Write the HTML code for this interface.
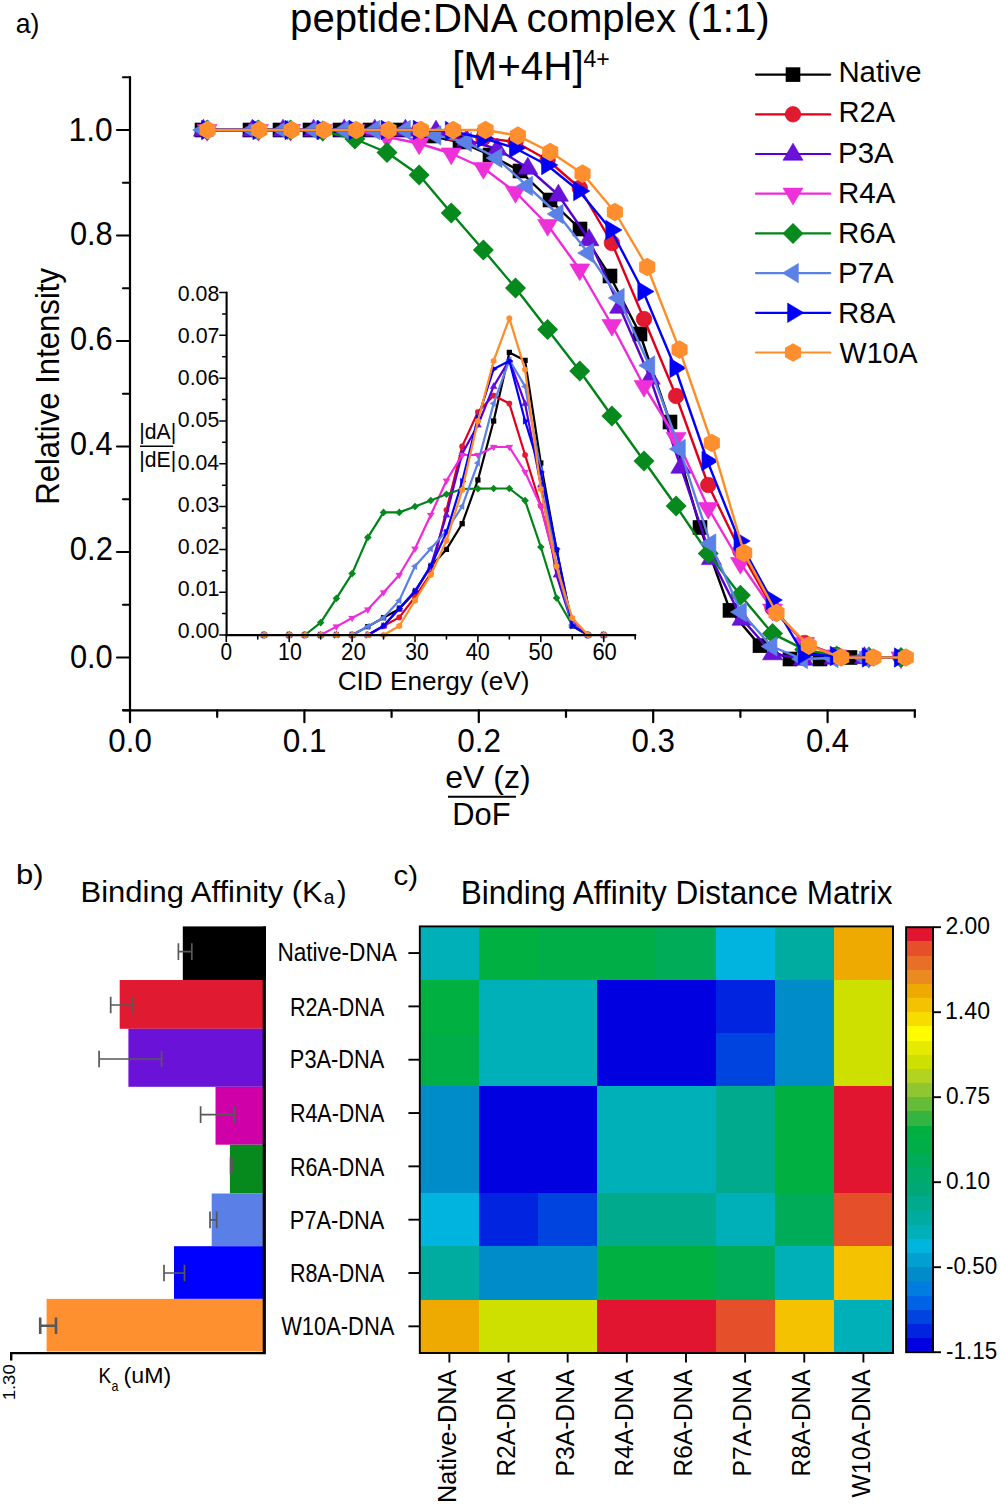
<!DOCTYPE html><html><head><meta charset="utf-8"><style>html,body{margin:0;padding:0;background:#fff}svg{display:block}</style></head><body>
<svg width="1000" height="1504" viewBox="0 0 1000 1504" font-family='"Liberation Sans", sans-serif'>
<rect width="1000" height="1504" fill="#fff"/>
<text x="15.73" y="32.50" font-size="27.5" textLength="23.68" lengthAdjust="spacingAndGlyphs">a)</text>
<text x="290.10" y="32.00" font-size="41.3" textLength="479.51" lengthAdjust="spacingAndGlyphs">peptide:DNA complex (1:1)</text>
<text x="452.37" y="80.30" font-size="41" textLength="131.37" lengthAdjust="spacingAndGlyphs">[M+4H]</text>
<text x="583.54" y="66.80" font-size="23.8" textLength="26.27" lengthAdjust="spacingAndGlyphs">4+</text>
<g stroke="#000" stroke-width="2.2" fill="none" stroke-linecap="round">
<path d="M130 77.2V710.3"/>
<path d="M123 710.3H915"/>
<path d="M123 710.25H130"/>
<path d="M117 657.5H130"/>
<path d="M123 604.75H130"/>
<path d="M117 552H130"/>
<path d="M123 499.25H130"/>
<path d="M117 446.5H130"/>
<path d="M123 393.75H130"/>
<path d="M117 341H130"/>
<path d="M123 288.25H130"/>
<path d="M117 235.5H130"/>
<path d="M123 182.75H130"/>
<path d="M117 130H130"/>
<path d="M123 77.25H130"/>
<path d="M130 710.3V722.2"/>
<path d="M217.2 710.3V717"/>
<path d="M304.4 710.3V722.2"/>
<path d="M391.6 710.3V717"/>
<path d="M478.8 710.3V722.2"/>
<path d="M566 710.3V717"/>
<path d="M653.2 710.3V722.2"/>
<path d="M740.4 710.3V717"/>
<path d="M827.6 710.3V722.2"/>
<path d="M914.8 710.3V717"/>
</g>
<text x="69.88" y="667.80" font-size="33.5" textLength="42.84" lengthAdjust="spacingAndGlyphs">0.0</text>
<text x="69.87" y="559.80" font-size="33.5" textLength="43.16" lengthAdjust="spacingAndGlyphs">0.2</text>
<text x="69.88" y="454.60" font-size="33.5" textLength="42.52" lengthAdjust="spacingAndGlyphs">0.4</text>
<text x="69.88" y="350.40" font-size="33.5" textLength="42.84" lengthAdjust="spacingAndGlyphs">0.6</text>
<text x="69.88" y="245.10" font-size="33.5" textLength="42.84" lengthAdjust="spacingAndGlyphs">0.8</text>
<text x="68.58" y="140.50" font-size="33.5" textLength="44.17" lengthAdjust="spacingAndGlyphs">1.0</text>
<text x="108.36" y="752.20" font-size="33.5" textLength="43.47" lengthAdjust="spacingAndGlyphs">0.0</text>
<text x="282.75" y="752.20" font-size="33.5" textLength="43.80" lengthAdjust="spacingAndGlyphs">0.1</text>
<text x="457.15" y="752.20" font-size="33.5" textLength="43.80" lengthAdjust="spacingAndGlyphs">0.2</text>
<text x="631.56" y="752.20" font-size="33.5" textLength="43.47" lengthAdjust="spacingAndGlyphs">0.3</text>
<text x="805.97" y="752.20" font-size="33.5" textLength="43.14" lengthAdjust="spacingAndGlyphs">0.4</text>
<text transform="translate(59.40 0) rotate(-90)" x="-504.79" y="0" font-size="33.3" textLength="236.79" lengthAdjust="spacingAndGlyphs">Relative Intensity</text>
<text x="445.32" y="787.60" font-size="32" textLength="85.38" lengthAdjust="spacingAndGlyphs">eV (z)</text>
<path d="M448 796.7H516" stroke="#000" stroke-width="2"/>
<text x="452.23" y="824.70" font-size="31.5" textLength="58.32" lengthAdjust="spacingAndGlyphs">DoF</text>
<text x="177.86" y="638.40" font-size="22.8" textLength="41.41" lengthAdjust="spacingAndGlyphs">0.00</text>
<text x="177.86" y="596.20" font-size="22.8" textLength="41.63" lengthAdjust="spacingAndGlyphs">0.01</text>
<text x="177.86" y="554.00" font-size="22.8" textLength="41.63" lengthAdjust="spacingAndGlyphs">0.02</text>
<text x="177.86" y="511.80" font-size="22.8" textLength="41.41" lengthAdjust="spacingAndGlyphs">0.03</text>
<text x="177.87" y="469.60" font-size="22.8" textLength="41.19" lengthAdjust="spacingAndGlyphs">0.04</text>
<text x="177.86" y="427.40" font-size="22.8" textLength="41.41" lengthAdjust="spacingAndGlyphs">0.05</text>
<text x="177.86" y="385.20" font-size="22.8" textLength="41.41" lengthAdjust="spacingAndGlyphs">0.06</text>
<text x="177.86" y="343.00" font-size="22.8" textLength="41.63" lengthAdjust="spacingAndGlyphs">0.07</text>
<text x="177.86" y="300.80" font-size="22.8" textLength="41.41" lengthAdjust="spacingAndGlyphs">0.08</text>
<text x="220.38" y="659.50" font-size="23.5" textLength="11.58" lengthAdjust="spacingAndGlyphs">0</text>
<text x="278.00" y="659.50" font-size="23.5" textLength="23.77" lengthAdjust="spacingAndGlyphs">10</text>
<text x="341.09" y="659.50" font-size="23.5" textLength="24.71" lengthAdjust="spacingAndGlyphs">20</text>
<text x="405.16" y="659.50" font-size="23.5" textLength="23.60" lengthAdjust="spacingAndGlyphs">30</text>
<text x="465.77" y="659.50" font-size="23.5" textLength="24.01" lengthAdjust="spacingAndGlyphs">40</text>
<text x="528.62" y="659.50" font-size="23.5" textLength="24.37" lengthAdjust="spacingAndGlyphs">50</text>
<text x="592.40" y="659.50" font-size="23.5" textLength="24.39" lengthAdjust="spacingAndGlyphs">60</text>
<text x="337.69" y="689.50" font-size="26" textLength="191.69" lengthAdjust="spacingAndGlyphs">CID Energy (eV)</text>
<text x="139.31" y="438.60" font-size="22.7" textLength="36.88" lengthAdjust="spacingAndGlyphs">|dA|</text>
<path d="M140 446.2H173.2" stroke="#000" stroke-width="1.4"/>
<text x="139.31" y="467.00" font-size="22.7" textLength="36.88" lengthAdjust="spacingAndGlyphs">|dE|</text>
<path d="M264.04 635L289.2 635L304.93 635L320.65 635L336.38 635L352.1 635L367.83 626.6L383.55 617.7L399.27 609L415 592L430.73 566.5L446.45 549.4L462.18 523.7L477.9 480L493.62 421L509.35 352.4L525.08 360.4L540.8 463L556.53 550L572.25 626L587.98 635L603.7 635" fill="none" stroke="#000000" stroke-width="2.2" stroke-linejoin="round"/>
<rect x="261.41" y="632.37" width="5.26" height="5.26" fill="#000000"/>
<rect x="286.57" y="632.37" width="5.26" height="5.26" fill="#000000"/>
<rect x="302.3" y="632.37" width="5.26" height="5.26" fill="#000000"/>
<rect x="318.02" y="632.37" width="5.26" height="5.26" fill="#000000"/>
<rect x="333.75" y="632.37" width="5.26" height="5.26" fill="#000000"/>
<rect x="349.47" y="632.37" width="5.26" height="5.26" fill="#000000"/>
<rect x="365.2" y="623.97" width="5.26" height="5.26" fill="#000000"/>
<rect x="380.92" y="615.07" width="5.26" height="5.26" fill="#000000"/>
<rect x="396.65" y="606.37" width="5.26" height="5.26" fill="#000000"/>
<rect x="412.37" y="589.37" width="5.26" height="5.26" fill="#000000"/>
<rect x="428.1" y="563.87" width="5.26" height="5.26" fill="#000000"/>
<rect x="443.82" y="546.77" width="5.26" height="5.26" fill="#000000"/>
<rect x="459.55" y="521.07" width="5.26" height="5.26" fill="#000000"/>
<rect x="475.27" y="477.37" width="5.26" height="5.26" fill="#000000"/>
<rect x="491" y="418.37" width="5.26" height="5.26" fill="#000000"/>
<rect x="506.72" y="349.77" width="5.26" height="5.26" fill="#000000"/>
<rect x="522.45" y="357.77" width="5.26" height="5.26" fill="#000000"/>
<rect x="538.17" y="460.37" width="5.26" height="5.26" fill="#000000"/>
<rect x="553.9" y="547.37" width="5.26" height="5.26" fill="#000000"/>
<rect x="569.62" y="623.37" width="5.26" height="5.26" fill="#000000"/>
<rect x="585.35" y="632.37" width="5.26" height="5.26" fill="#000000"/>
<rect x="601.07" y="632.37" width="5.26" height="5.26" fill="#000000"/>
<path d="M264.04 635L289.2 635L304.93 635L320.65 635L336.38 635L352.1 635L367.83 635L383.55 626L399.27 617.4L415 597L430.73 573.5L446.45 510L462.18 446.4L477.9 412L493.62 395.6L509.35 403.6L525.08 455L540.8 506L556.53 567L572.25 621L587.98 635L603.7 635" fill="none" stroke="#e0001c" stroke-width="2.2" stroke-linejoin="round"/>
<circle cx="264.04" cy="635" r="2.81" fill="#e01a30" stroke="#e0001c" stroke-width="0.22"/>
<circle cx="289.2" cy="635" r="2.81" fill="#e01a30" stroke="#e0001c" stroke-width="0.22"/>
<circle cx="304.93" cy="635" r="2.81" fill="#e01a30" stroke="#e0001c" stroke-width="0.22"/>
<circle cx="320.65" cy="635" r="2.81" fill="#e01a30" stroke="#e0001c" stroke-width="0.22"/>
<circle cx="336.38" cy="635" r="2.81" fill="#e01a30" stroke="#e0001c" stroke-width="0.22"/>
<circle cx="352.1" cy="635" r="2.81" fill="#e01a30" stroke="#e0001c" stroke-width="0.22"/>
<circle cx="367.83" cy="635" r="2.81" fill="#e01a30" stroke="#e0001c" stroke-width="0.22"/>
<circle cx="383.55" cy="626" r="2.81" fill="#e01a30" stroke="#e0001c" stroke-width="0.22"/>
<circle cx="399.27" cy="617.4" r="2.81" fill="#e01a30" stroke="#e0001c" stroke-width="0.22"/>
<circle cx="415" cy="597" r="2.81" fill="#e01a30" stroke="#e0001c" stroke-width="0.22"/>
<circle cx="430.73" cy="573.5" r="2.81" fill="#e01a30" stroke="#e0001c" stroke-width="0.22"/>
<circle cx="446.45" cy="510" r="2.81" fill="#e01a30" stroke="#e0001c" stroke-width="0.22"/>
<circle cx="462.18" cy="446.4" r="2.81" fill="#e01a30" stroke="#e0001c" stroke-width="0.22"/>
<circle cx="477.9" cy="412" r="2.81" fill="#e01a30" stroke="#e0001c" stroke-width="0.22"/>
<circle cx="493.62" cy="395.6" r="2.81" fill="#e01a30" stroke="#e0001c" stroke-width="0.22"/>
<circle cx="509.35" cy="403.6" r="2.81" fill="#e01a30" stroke="#e0001c" stroke-width="0.22"/>
<circle cx="525.08" cy="455" r="2.81" fill="#e01a30" stroke="#e0001c" stroke-width="0.22"/>
<circle cx="540.8" cy="506" r="2.81" fill="#e01a30" stroke="#e0001c" stroke-width="0.22"/>
<circle cx="556.53" cy="567" r="2.81" fill="#e01a30" stroke="#e0001c" stroke-width="0.22"/>
<circle cx="572.25" cy="621" r="2.81" fill="#e01a30" stroke="#e0001c" stroke-width="0.22"/>
<circle cx="587.98" cy="635" r="2.81" fill="#e01a30" stroke="#e0001c" stroke-width="0.22"/>
<circle cx="603.7" cy="635" r="2.81" fill="#e01a30" stroke="#e0001c" stroke-width="0.22"/>
<path d="M264.04 635L289.2 635L304.93 635L320.65 635L336.38 635L352.1 635L367.83 635L383.55 626L399.27 608.6L415 591.3L430.73 566.2L446.45 515L462.18 453.6L477.9 425L493.62 386.4L509.35 360L525.08 403.6L540.8 485L556.53 575L572.25 625L587.98 635L603.7 635" fill="none" stroke="#5a00d4" stroke-width="2.2" stroke-linejoin="round"/>
<path d="M264.04 631.11L267.64 637.23L260.44 637.23Z" fill="#6a12d8" stroke="#5a00d4" stroke-width="0.22" stroke-linejoin="round"/>
<path d="M289.2 631.11L292.8 637.23L285.6 637.23Z" fill="#6a12d8" stroke="#5a00d4" stroke-width="0.22" stroke-linejoin="round"/>
<path d="M304.93 631.11L308.53 637.23L301.32 637.23Z" fill="#6a12d8" stroke="#5a00d4" stroke-width="0.22" stroke-linejoin="round"/>
<path d="M320.65 631.11L324.25 637.23L317.05 637.23Z" fill="#6a12d8" stroke="#5a00d4" stroke-width="0.22" stroke-linejoin="round"/>
<path d="M336.38 631.11L339.98 637.23L332.77 637.23Z" fill="#6a12d8" stroke="#5a00d4" stroke-width="0.22" stroke-linejoin="round"/>
<path d="M352.1 631.11L355.7 637.23L348.5 637.23Z" fill="#6a12d8" stroke="#5a00d4" stroke-width="0.22" stroke-linejoin="round"/>
<path d="M367.83 631.11L371.43 637.23L364.23 637.23Z" fill="#6a12d8" stroke="#5a00d4" stroke-width="0.22" stroke-linejoin="round"/>
<path d="M383.55 622.11L387.15 628.23L379.95 628.23Z" fill="#6a12d8" stroke="#5a00d4" stroke-width="0.22" stroke-linejoin="round"/>
<path d="M399.27 604.71L402.88 610.83L395.67 610.83Z" fill="#6a12d8" stroke="#5a00d4" stroke-width="0.22" stroke-linejoin="round"/>
<path d="M415 587.41L418.6 593.53L411.4 593.53Z" fill="#6a12d8" stroke="#5a00d4" stroke-width="0.22" stroke-linejoin="round"/>
<path d="M430.73 562.31L434.33 568.43L427.12 568.43Z" fill="#6a12d8" stroke="#5a00d4" stroke-width="0.22" stroke-linejoin="round"/>
<path d="M446.45 511.11L450.05 517.23L442.85 517.23Z" fill="#6a12d8" stroke="#5a00d4" stroke-width="0.22" stroke-linejoin="round"/>
<path d="M462.18 449.71L465.78 455.83L458.57 455.83Z" fill="#6a12d8" stroke="#5a00d4" stroke-width="0.22" stroke-linejoin="round"/>
<path d="M477.9 421.11L481.5 427.23L474.3 427.23Z" fill="#6a12d8" stroke="#5a00d4" stroke-width="0.22" stroke-linejoin="round"/>
<path d="M493.62 382.51L497.23 388.63L490.02 388.63Z" fill="#6a12d8" stroke="#5a00d4" stroke-width="0.22" stroke-linejoin="round"/>
<path d="M509.35 356.11L512.95 362.23L505.75 362.23Z" fill="#6a12d8" stroke="#5a00d4" stroke-width="0.22" stroke-linejoin="round"/>
<path d="M525.08 399.71L528.68 405.83L521.48 405.83Z" fill="#6a12d8" stroke="#5a00d4" stroke-width="0.22" stroke-linejoin="round"/>
<path d="M540.8 481.11L544.4 487.23L537.2 487.23Z" fill="#6a12d8" stroke="#5a00d4" stroke-width="0.22" stroke-linejoin="round"/>
<path d="M556.53 571.11L560.13 577.23L552.93 577.23Z" fill="#6a12d8" stroke="#5a00d4" stroke-width="0.22" stroke-linejoin="round"/>
<path d="M572.25 621.11L575.85 627.23L568.65 627.23Z" fill="#6a12d8" stroke="#5a00d4" stroke-width="0.22" stroke-linejoin="round"/>
<path d="M587.98 631.11L591.58 637.23L584.38 637.23Z" fill="#6a12d8" stroke="#5a00d4" stroke-width="0.22" stroke-linejoin="round"/>
<path d="M603.7 631.11L607.3 637.23L600.1 637.23Z" fill="#6a12d8" stroke="#5a00d4" stroke-width="0.22" stroke-linejoin="round"/>
<path d="M264.04 635L289.2 635L304.93 635L320.65 635L336.38 626.6L352.1 618L367.83 609.6L383.55 592.5L399.27 575L415 548.7L430.73 515L446.45 480.7L462.18 455L477.9 455L493.62 447L509.35 447L525.08 472L540.8 506.4L556.53 566L572.25 622L587.98 635L603.7 635" fill="none" stroke="#f02ad8" stroke-width="2.2" stroke-linejoin="round"/>
<path d="M260.44 632.98L267.64 632.98L264.04 639.03Z" fill="#ee30d8" stroke="#f02ad8" stroke-width="0.22" stroke-linejoin="round"/>
<path d="M285.6 632.98L292.8 632.98L289.2 639.03Z" fill="#ee30d8" stroke="#f02ad8" stroke-width="0.22" stroke-linejoin="round"/>
<path d="M301.32 632.98L308.53 632.98L304.93 639.03Z" fill="#ee30d8" stroke="#f02ad8" stroke-width="0.22" stroke-linejoin="round"/>
<path d="M317.05 632.98L324.25 632.98L320.65 639.03Z" fill="#ee30d8" stroke="#f02ad8" stroke-width="0.22" stroke-linejoin="round"/>
<path d="M332.77 624.58L339.98 624.58L336.38 630.63Z" fill="#ee30d8" stroke="#f02ad8" stroke-width="0.22" stroke-linejoin="round"/>
<path d="M348.5 615.98L355.7 615.98L352.1 622.03Z" fill="#ee30d8" stroke="#f02ad8" stroke-width="0.22" stroke-linejoin="round"/>
<path d="M364.23 607.58L371.43 607.58L367.83 613.63Z" fill="#ee30d8" stroke="#f02ad8" stroke-width="0.22" stroke-linejoin="round"/>
<path d="M379.95 590.48L387.15 590.48L383.55 596.53Z" fill="#ee30d8" stroke="#f02ad8" stroke-width="0.22" stroke-linejoin="round"/>
<path d="M395.67 572.98L402.88 572.98L399.27 579.03Z" fill="#ee30d8" stroke="#f02ad8" stroke-width="0.22" stroke-linejoin="round"/>
<path d="M411.4 546.68L418.6 546.68L415 552.73Z" fill="#ee30d8" stroke="#f02ad8" stroke-width="0.22" stroke-linejoin="round"/>
<path d="M427.12 512.98L434.33 512.98L430.73 519.03Z" fill="#ee30d8" stroke="#f02ad8" stroke-width="0.22" stroke-linejoin="round"/>
<path d="M442.85 478.68L450.05 478.68L446.45 484.73Z" fill="#ee30d8" stroke="#f02ad8" stroke-width="0.22" stroke-linejoin="round"/>
<path d="M458.57 452.98L465.78 452.98L462.18 459.03Z" fill="#ee30d8" stroke="#f02ad8" stroke-width="0.22" stroke-linejoin="round"/>
<path d="M474.3 452.98L481.5 452.98L477.9 459.03Z" fill="#ee30d8" stroke="#f02ad8" stroke-width="0.22" stroke-linejoin="round"/>
<path d="M490.02 444.98L497.23 444.98L493.62 451.03Z" fill="#ee30d8" stroke="#f02ad8" stroke-width="0.22" stroke-linejoin="round"/>
<path d="M505.75 444.98L512.95 444.98L509.35 451.03Z" fill="#ee30d8" stroke="#f02ad8" stroke-width="0.22" stroke-linejoin="round"/>
<path d="M521.48 469.98L528.68 469.98L525.08 476.03Z" fill="#ee30d8" stroke="#f02ad8" stroke-width="0.22" stroke-linejoin="round"/>
<path d="M537.2 504.38L544.4 504.38L540.8 510.43Z" fill="#ee30d8" stroke="#f02ad8" stroke-width="0.22" stroke-linejoin="round"/>
<path d="M552.93 563.98L560.13 563.98L556.53 570.03Z" fill="#ee30d8" stroke="#f02ad8" stroke-width="0.22" stroke-linejoin="round"/>
<path d="M568.65 619.98L575.85 619.98L572.25 626.03Z" fill="#ee30d8" stroke="#f02ad8" stroke-width="0.22" stroke-linejoin="round"/>
<path d="M584.38 632.98L591.58 632.98L587.98 639.03Z" fill="#ee30d8" stroke="#f02ad8" stroke-width="0.22" stroke-linejoin="round"/>
<path d="M600.1 632.98L607.3 632.98L603.7 639.03Z" fill="#ee30d8" stroke="#f02ad8" stroke-width="0.22" stroke-linejoin="round"/>
<path d="M264.04 635L289.2 635L304.93 635L320.65 622.6L336.38 598.4L352.1 573.6L367.83 537.4L383.55 512.4L399.27 512.4L415 506.5L430.73 500.5L446.45 494.3L462.18 489L477.9 488.7L493.62 488.5L509.35 488.5L525.08 500.6L540.8 547L556.53 598L572.25 625L587.98 635L603.7 635" fill="none" stroke="#008418" stroke-width="2.2" stroke-linejoin="round"/>
<path d="M264.04 631.22L267.82 635L264.04 638.78L260.26 635Z" fill="#068a1e"/>
<path d="M289.2 631.22L292.98 635L289.2 638.78L285.42 635Z" fill="#068a1e"/>
<path d="M304.93 631.22L308.7 635L304.93 638.78L301.15 635Z" fill="#068a1e"/>
<path d="M320.65 618.82L324.43 622.6L320.65 626.38L316.87 622.6Z" fill="#068a1e"/>
<path d="M336.38 594.62L340.15 598.4L336.38 602.18L332.6 598.4Z" fill="#068a1e"/>
<path d="M352.1 569.82L355.88 573.6L352.1 577.38L348.32 573.6Z" fill="#068a1e"/>
<path d="M367.83 533.62L371.61 537.4L367.83 541.18L364.05 537.4Z" fill="#068a1e"/>
<path d="M383.55 508.62L387.33 512.4L383.55 516.18L379.77 512.4Z" fill="#068a1e"/>
<path d="M399.27 508.62L403.05 512.4L399.27 516.18L395.5 512.4Z" fill="#068a1e"/>
<path d="M415 502.72L418.78 506.5L415 510.28L411.22 506.5Z" fill="#068a1e"/>
<path d="M430.73 496.72L434.5 500.5L430.73 504.28L426.95 500.5Z" fill="#068a1e"/>
<path d="M446.45 490.52L450.23 494.3L446.45 498.08L442.67 494.3Z" fill="#068a1e"/>
<path d="M462.18 485.22L465.95 489L462.18 492.78L458.4 489Z" fill="#068a1e"/>
<path d="M477.9 484.92L481.68 488.7L477.9 492.48L474.12 488.7Z" fill="#068a1e"/>
<path d="M493.62 484.72L497.4 488.5L493.62 492.28L489.85 488.5Z" fill="#068a1e"/>
<path d="M509.35 484.72L513.13 488.5L509.35 492.28L505.57 488.5Z" fill="#068a1e"/>
<path d="M525.08 496.82L528.86 500.6L525.08 504.38L521.3 500.6Z" fill="#068a1e"/>
<path d="M540.8 543.22L544.58 547L540.8 550.78L537.02 547Z" fill="#068a1e"/>
<path d="M556.53 594.22L560.31 598L556.53 601.78L552.75 598Z" fill="#068a1e"/>
<path d="M572.25 621.22L576.03 625L572.25 628.78L568.47 625Z" fill="#068a1e"/>
<path d="M587.98 631.22L591.75 635L587.98 638.78L584.2 635Z" fill="#068a1e"/>
<path d="M603.7 631.22L607.48 635L603.7 638.78L599.92 635Z" fill="#068a1e"/>
<path d="M264.04 635L289.2 635L304.93 635L320.65 635L336.38 635L352.1 635L367.83 626.6L383.55 617.7L399.27 600.5L415 566.2L430.73 548.7L446.45 531L462.18 506.3L477.9 463L493.62 403.6L509.35 360L525.08 386.4L540.8 470L556.53 565L572.25 625L587.98 635L603.7 635" fill="none" stroke="#5b80e6" stroke-width="2.2" stroke-linejoin="round"/>
<path d="M260.22 635L265.98 631.51L265.98 638.49Z" fill="#5b80e6" stroke="#5b80e6" stroke-width="0.22" stroke-linejoin="round"/>
<path d="M285.38 635L291.14 631.51L291.14 638.49Z" fill="#5b80e6" stroke="#5b80e6" stroke-width="0.22" stroke-linejoin="round"/>
<path d="M301.11 635L306.87 631.51L306.87 638.49Z" fill="#5b80e6" stroke="#5b80e6" stroke-width="0.22" stroke-linejoin="round"/>
<path d="M316.83 635L322.59 631.51L322.59 638.49Z" fill="#5b80e6" stroke="#5b80e6" stroke-width="0.22" stroke-linejoin="round"/>
<path d="M332.56 635L338.32 631.51L338.32 638.49Z" fill="#5b80e6" stroke="#5b80e6" stroke-width="0.22" stroke-linejoin="round"/>
<path d="M348.28 635L354.04 631.51L354.04 638.49Z" fill="#5b80e6" stroke="#5b80e6" stroke-width="0.22" stroke-linejoin="round"/>
<path d="M364.01 626.6L369.77 623.11L369.77 630.09Z" fill="#5b80e6" stroke="#5b80e6" stroke-width="0.22" stroke-linejoin="round"/>
<path d="M379.73 617.7L385.49 614.21L385.49 621.19Z" fill="#5b80e6" stroke="#5b80e6" stroke-width="0.22" stroke-linejoin="round"/>
<path d="M395.46 600.5L401.22 597.01L401.22 603.99Z" fill="#5b80e6" stroke="#5b80e6" stroke-width="0.22" stroke-linejoin="round"/>
<path d="M411.18 566.2L416.94 562.71L416.94 569.69Z" fill="#5b80e6" stroke="#5b80e6" stroke-width="0.22" stroke-linejoin="round"/>
<path d="M426.91 548.7L432.67 545.21L432.67 552.19Z" fill="#5b80e6" stroke="#5b80e6" stroke-width="0.22" stroke-linejoin="round"/>
<path d="M442.63 531L448.39 527.51L448.39 534.49Z" fill="#5b80e6" stroke="#5b80e6" stroke-width="0.22" stroke-linejoin="round"/>
<path d="M458.36 506.3L464.12 502.81L464.12 509.79Z" fill="#5b80e6" stroke="#5b80e6" stroke-width="0.22" stroke-linejoin="round"/>
<path d="M474.08 463L479.84 459.51L479.84 466.49Z" fill="#5b80e6" stroke="#5b80e6" stroke-width="0.22" stroke-linejoin="round"/>
<path d="M489.81 403.6L495.57 400.11L495.57 407.09Z" fill="#5b80e6" stroke="#5b80e6" stroke-width="0.22" stroke-linejoin="round"/>
<path d="M505.53 360L511.29 356.51L511.29 363.49Z" fill="#5b80e6" stroke="#5b80e6" stroke-width="0.22" stroke-linejoin="round"/>
<path d="M521.26 386.4L527.02 382.91L527.02 389.89Z" fill="#5b80e6" stroke="#5b80e6" stroke-width="0.22" stroke-linejoin="round"/>
<path d="M536.98 470L542.74 466.51L542.74 473.49Z" fill="#5b80e6" stroke="#5b80e6" stroke-width="0.22" stroke-linejoin="round"/>
<path d="M552.71 565L558.47 561.51L558.47 568.49Z" fill="#5b80e6" stroke="#5b80e6" stroke-width="0.22" stroke-linejoin="round"/>
<path d="M568.43 625L574.19 621.51L574.19 628.49Z" fill="#5b80e6" stroke="#5b80e6" stroke-width="0.22" stroke-linejoin="round"/>
<path d="M584.16 635L589.92 631.51L589.92 638.49Z" fill="#5b80e6" stroke="#5b80e6" stroke-width="0.22" stroke-linejoin="round"/>
<path d="M599.88 635L605.64 631.51L605.64 638.49Z" fill="#5b80e6" stroke="#5b80e6" stroke-width="0.22" stroke-linejoin="round"/>
<path d="M264.04 635L289.2 635L304.93 635L320.65 635L336.38 635L352.1 635L367.83 635L383.55 626L399.27 608.6L415 591.3L430.73 566.2L446.45 532.6L462.18 481.4L477.9 418L493.62 369L509.35 361L525.08 421L540.8 472L556.53 549L572.25 625.6L587.98 635L603.7 635" fill="none" stroke="#0000ff" stroke-width="2.2" stroke-linejoin="round"/>
<path d="M267.93 635L262.1 631.51L262.1 638.49Z" fill="#0000fa" stroke="#0000ff" stroke-width="0.22" stroke-linejoin="round"/>
<path d="M293.09 635L287.26 631.51L287.26 638.49Z" fill="#0000fa" stroke="#0000ff" stroke-width="0.22" stroke-linejoin="round"/>
<path d="M308.81 635L302.98 631.51L302.98 638.49Z" fill="#0000fa" stroke="#0000ff" stroke-width="0.22" stroke-linejoin="round"/>
<path d="M324.54 635L318.71 631.51L318.71 638.49Z" fill="#0000fa" stroke="#0000ff" stroke-width="0.22" stroke-linejoin="round"/>
<path d="M340.26 635L334.43 631.51L334.43 638.49Z" fill="#0000fa" stroke="#0000ff" stroke-width="0.22" stroke-linejoin="round"/>
<path d="M355.99 635L350.16 631.51L350.16 638.49Z" fill="#0000fa" stroke="#0000ff" stroke-width="0.22" stroke-linejoin="round"/>
<path d="M371.71 635L365.88 631.51L365.88 638.49Z" fill="#0000fa" stroke="#0000ff" stroke-width="0.22" stroke-linejoin="round"/>
<path d="M387.44 626L381.61 622.51L381.61 629.49Z" fill="#0000fa" stroke="#0000ff" stroke-width="0.22" stroke-linejoin="round"/>
<path d="M403.16 608.6L397.33 605.11L397.33 612.09Z" fill="#0000fa" stroke="#0000ff" stroke-width="0.22" stroke-linejoin="round"/>
<path d="M418.89 591.3L413.06 587.81L413.06 594.79Z" fill="#0000fa" stroke="#0000ff" stroke-width="0.22" stroke-linejoin="round"/>
<path d="M434.61 566.2L428.78 562.71L428.78 569.69Z" fill="#0000fa" stroke="#0000ff" stroke-width="0.22" stroke-linejoin="round"/>
<path d="M450.34 532.6L444.51 529.11L444.51 536.09Z" fill="#0000fa" stroke="#0000ff" stroke-width="0.22" stroke-linejoin="round"/>
<path d="M466.06 481.4L460.23 477.91L460.23 484.89Z" fill="#0000fa" stroke="#0000ff" stroke-width="0.22" stroke-linejoin="round"/>
<path d="M481.79 418L475.96 414.51L475.96 421.49Z" fill="#0000fa" stroke="#0000ff" stroke-width="0.22" stroke-linejoin="round"/>
<path d="M497.51 369L491.68 365.51L491.68 372.49Z" fill="#0000fa" stroke="#0000ff" stroke-width="0.22" stroke-linejoin="round"/>
<path d="M513.24 361L507.41 357.51L507.41 364.49Z" fill="#0000fa" stroke="#0000ff" stroke-width="0.22" stroke-linejoin="round"/>
<path d="M528.96 421L523.13 417.51L523.13 424.49Z" fill="#0000fa" stroke="#0000ff" stroke-width="0.22" stroke-linejoin="round"/>
<path d="M544.69 472L538.86 468.51L538.86 475.49Z" fill="#0000fa" stroke="#0000ff" stroke-width="0.22" stroke-linejoin="round"/>
<path d="M560.41 549L554.58 545.51L554.58 552.49Z" fill="#0000fa" stroke="#0000ff" stroke-width="0.22" stroke-linejoin="round"/>
<path d="M576.14 625.6L570.31 622.11L570.31 629.09Z" fill="#0000fa" stroke="#0000ff" stroke-width="0.22" stroke-linejoin="round"/>
<path d="M591.86 635L586.03 631.51L586.03 638.49Z" fill="#0000fa" stroke="#0000ff" stroke-width="0.22" stroke-linejoin="round"/>
<path d="M607.59 635L601.76 631.51L601.76 638.49Z" fill="#0000fa" stroke="#0000ff" stroke-width="0.22" stroke-linejoin="round"/>
<path d="M264.04 635L289.2 635L304.93 635L320.65 635L336.38 635L352.1 635L367.83 635L383.55 635L399.27 626L415 600.5L430.73 575L446.45 540.6L462.18 489.9L477.9 421L493.62 361L509.35 318.4L525.08 369.6L540.8 489L556.53 566.4L572.25 618L587.98 635L603.7 635" fill="none" stroke="#ff8d26" stroke-width="2.2" stroke-linejoin="round"/>
<path d="M264.04 631.65L266.94 633.33L266.94 636.67L264.04 638.35L261.14 636.67L261.14 633.33Z" fill="#ff8f2e"/>
<path d="M289.2 631.65L292.1 633.33L292.1 636.67L289.2 638.35L286.3 636.67L286.3 633.33Z" fill="#ff8f2e"/>
<path d="M304.93 631.65L307.82 633.33L307.82 636.67L304.93 638.35L302.03 636.67L302.03 633.33Z" fill="#ff8f2e"/>
<path d="M320.65 631.65L323.55 633.33L323.55 636.67L320.65 638.35L317.75 636.67L317.75 633.33Z" fill="#ff8f2e"/>
<path d="M336.38 631.65L339.27 633.33L339.27 636.67L336.38 638.35L333.48 636.67L333.48 633.33Z" fill="#ff8f2e"/>
<path d="M352.1 631.65L355 633.33L355 636.67L352.1 638.35L349.2 636.67L349.2 633.33Z" fill="#ff8f2e"/>
<path d="M367.83 631.65L370.72 633.33L370.72 636.67L367.83 638.35L364.93 636.67L364.93 633.33Z" fill="#ff8f2e"/>
<path d="M383.55 631.65L386.45 633.33L386.45 636.67L383.55 638.35L380.65 636.67L380.65 633.33Z" fill="#ff8f2e"/>
<path d="M399.27 622.65L402.17 624.33L402.17 627.67L399.27 629.35L396.38 627.67L396.38 624.33Z" fill="#ff8f2e"/>
<path d="M415 597.15L417.9 598.83L417.9 602.17L415 603.85L412.1 602.17L412.1 598.83Z" fill="#ff8f2e"/>
<path d="M430.73 571.65L433.62 573.33L433.62 576.67L430.73 578.35L427.83 576.67L427.83 573.33Z" fill="#ff8f2e"/>
<path d="M446.45 537.25L449.35 538.93L449.35 542.27L446.45 543.95L443.55 542.27L443.55 538.93Z" fill="#ff8f2e"/>
<path d="M462.18 486.55L465.07 488.23L465.07 491.57L462.18 493.25L459.28 491.57L459.28 488.23Z" fill="#ff8f2e"/>
<path d="M477.9 417.65L480.8 419.33L480.8 422.67L477.9 424.35L475 422.67L475 419.33Z" fill="#ff8f2e"/>
<path d="M493.62 357.65L496.52 359.33L496.52 362.67L493.62 364.35L490.73 362.67L490.73 359.33Z" fill="#ff8f2e"/>
<path d="M509.35 315.05L512.25 316.73L512.25 320.07L509.35 321.75L506.45 320.07L506.45 316.73Z" fill="#ff8f2e"/>
<path d="M525.08 366.25L527.97 367.93L527.97 371.27L525.08 372.95L522.18 371.27L522.18 367.93Z" fill="#ff8f2e"/>
<path d="M540.8 485.65L543.7 487.33L543.7 490.67L540.8 492.35L537.9 490.67L537.9 487.33Z" fill="#ff8f2e"/>
<path d="M556.53 563.05L559.42 564.73L559.42 568.07L556.53 569.75L553.63 568.07L553.63 564.73Z" fill="#ff8f2e"/>
<path d="M572.25 614.65L575.15 616.33L575.15 619.67L572.25 621.35L569.35 619.67L569.35 616.33Z" fill="#ff8f2e"/>
<path d="M587.98 631.65L590.87 633.33L590.87 636.67L587.98 638.35L585.08 636.67L585.08 633.33Z" fill="#ff8f2e"/>
<path d="M603.7 631.65L606.6 633.33L606.6 636.67L603.7 638.35L600.8 636.67L600.8 633.33Z" fill="#ff8f2e"/>
<g stroke="#000" fill="none" stroke-linecap="round">
<path d="M226.6 292.6V635.4" stroke-width="2.1"/>
<path d="M226 635.2H635.3" stroke-width="2.3"/>
<path d="M219.8 635H226.5" stroke-width="1.5"/>
<path d="M222.6 613.6H226.5" stroke-width="1.5"/>
<path d="M219.8 592.19H226.5" stroke-width="1.5"/>
<path d="M222.6 570.78H226.5" stroke-width="1.5"/>
<path d="M219.8 549.38H226.5" stroke-width="1.5"/>
<path d="M222.6 527.98H226.5" stroke-width="1.5"/>
<path d="M219.8 506.57H226.5" stroke-width="1.5"/>
<path d="M222.6 485.16H226.5" stroke-width="1.5"/>
<path d="M219.8 463.76H226.5" stroke-width="1.5"/>
<path d="M222.6 442.36H226.5" stroke-width="1.5"/>
<path d="M219.8 420.95H226.5" stroke-width="1.5"/>
<path d="M222.6 399.54H226.5" stroke-width="1.5"/>
<path d="M219.8 378.14H226.5" stroke-width="1.5"/>
<path d="M222.6 356.74H226.5" stroke-width="1.5"/>
<path d="M219.8 335.33H226.5" stroke-width="1.5"/>
<path d="M222.6 313.92H226.5" stroke-width="1.5"/>
<path d="M219.8 292.52H226.5" stroke-width="1.5"/>
<path d="M226.3 635V641.5" stroke-width="1.6"/>
<path d="M257.75 635V639" stroke-width="1.6"/>
<path d="M289.2 635V641.5" stroke-width="1.6"/>
<path d="M320.65 635V639" stroke-width="1.6"/>
<path d="M352.1 635V641.5" stroke-width="1.6"/>
<path d="M383.55 635V639" stroke-width="1.6"/>
<path d="M415 635V641.5" stroke-width="1.6"/>
<path d="M446.45 635V639" stroke-width="1.6"/>
<path d="M477.9 635V641.5" stroke-width="1.6"/>
<path d="M509.35 635V639" stroke-width="1.6"/>
<path d="M540.8 635V641.5" stroke-width="1.6"/>
<path d="M572.25 635V639" stroke-width="1.6"/>
<path d="M603.7 635V641.5" stroke-width="1.6"/>
<path d="M635.15 635V639" stroke-width="1.6"/>
</g>
<path d="M202 130L250 130L280 130L310 130L340 130L370 130L400 130L430 136L460 142L490 155L520 171L550 200L580 229L610 276L640 334L670 422L700 527.5L730 610.4L760 645.6L790 659L820 659L850 657.5" fill="none" stroke="#000000" stroke-width="2.4" stroke-linejoin="round"/>
<rect x="194.7" y="122.7" width="14.6" height="14.6" fill="#000000"/>
<rect x="242.7" y="122.7" width="14.6" height="14.6" fill="#000000"/>
<rect x="272.7" y="122.7" width="14.6" height="14.6" fill="#000000"/>
<rect x="302.7" y="122.7" width="14.6" height="14.6" fill="#000000"/>
<rect x="332.7" y="122.7" width="14.6" height="14.6" fill="#000000"/>
<rect x="362.7" y="122.7" width="14.6" height="14.6" fill="#000000"/>
<rect x="392.7" y="122.7" width="14.6" height="14.6" fill="#000000"/>
<rect x="422.7" y="128.7" width="14.6" height="14.6" fill="#000000"/>
<rect x="452.7" y="134.7" width="14.6" height="14.6" fill="#000000"/>
<rect x="482.7" y="147.7" width="14.6" height="14.6" fill="#000000"/>
<rect x="512.7" y="163.7" width="14.6" height="14.6" fill="#000000"/>
<rect x="542.7" y="192.7" width="14.6" height="14.6" fill="#000000"/>
<rect x="572.7" y="221.7" width="14.6" height="14.6" fill="#000000"/>
<rect x="602.7" y="268.7" width="14.6" height="14.6" fill="#000000"/>
<rect x="632.7" y="326.7" width="14.6" height="14.6" fill="#000000"/>
<rect x="662.7" y="414.7" width="14.6" height="14.6" fill="#000000"/>
<rect x="692.7" y="520.2" width="14.6" height="14.6" fill="#000000"/>
<rect x="722.7" y="603.1" width="14.6" height="14.6" fill="#000000"/>
<rect x="752.7" y="638.3" width="14.6" height="14.6" fill="#000000"/>
<rect x="782.7" y="651.7" width="14.6" height="14.6" fill="#000000"/>
<rect x="812.7" y="651.7" width="14.6" height="14.6" fill="#000000"/>
<rect x="842.7" y="650.2" width="14.6" height="14.6" fill="#000000"/>
<path d="M207.1 130L258.5 130L290.62 130L322.75 130L354.88 130L387 130L419.12 130L451.25 133L483.38 138L515.5 142L547.62 160L579.75 188L611.88 243L644 319L676.12 396L708.25 485L740.38 551L772.5 608L804.62 643L836.75 655L868.88 657.5L901 657.5" fill="none" stroke="#e0001c" stroke-width="2.4" stroke-linejoin="round"/>
<circle cx="207.1" cy="130" r="7.8" fill="#e01a30" stroke="#e0001c" stroke-width="0.6"/>
<circle cx="258.5" cy="130" r="7.8" fill="#e01a30" stroke="#e0001c" stroke-width="0.6"/>
<circle cx="290.62" cy="130" r="7.8" fill="#e01a30" stroke="#e0001c" stroke-width="0.6"/>
<circle cx="322.75" cy="130" r="7.8" fill="#e01a30" stroke="#e0001c" stroke-width="0.6"/>
<circle cx="354.88" cy="130" r="7.8" fill="#e01a30" stroke="#e0001c" stroke-width="0.6"/>
<circle cx="387" cy="130" r="7.8" fill="#e01a30" stroke="#e0001c" stroke-width="0.6"/>
<circle cx="419.12" cy="130" r="7.8" fill="#e01a30" stroke="#e0001c" stroke-width="0.6"/>
<circle cx="451.25" cy="133" r="7.8" fill="#e01a30" stroke="#e0001c" stroke-width="0.6"/>
<circle cx="483.38" cy="138" r="7.8" fill="#e01a30" stroke="#e0001c" stroke-width="0.6"/>
<circle cx="515.5" cy="142" r="7.8" fill="#e01a30" stroke="#e0001c" stroke-width="0.6"/>
<circle cx="547.62" cy="160" r="7.8" fill="#e01a30" stroke="#e0001c" stroke-width="0.6"/>
<circle cx="579.75" cy="188" r="7.8" fill="#e01a30" stroke="#e0001c" stroke-width="0.6"/>
<circle cx="611.88" cy="243" r="7.8" fill="#e01a30" stroke="#e0001c" stroke-width="0.6"/>
<circle cx="644" cy="319" r="7.8" fill="#e01a30" stroke="#e0001c" stroke-width="0.6"/>
<circle cx="676.12" cy="396" r="7.8" fill="#e01a30" stroke="#e0001c" stroke-width="0.6"/>
<circle cx="708.25" cy="485" r="7.8" fill="#e01a30" stroke="#e0001c" stroke-width="0.6"/>
<circle cx="740.38" cy="551" r="7.8" fill="#e01a30" stroke="#e0001c" stroke-width="0.6"/>
<circle cx="772.5" cy="608" r="7.8" fill="#e01a30" stroke="#e0001c" stroke-width="0.6"/>
<circle cx="804.62" cy="643" r="7.8" fill="#e01a30" stroke="#e0001c" stroke-width="0.6"/>
<circle cx="836.75" cy="655" r="7.8" fill="#e01a30" stroke="#e0001c" stroke-width="0.6"/>
<circle cx="868.88" cy="657.5" r="7.8" fill="#e01a30" stroke="#e0001c" stroke-width="0.6"/>
<circle cx="901" cy="657.5" r="7.8" fill="#e01a30" stroke="#e0001c" stroke-width="0.6"/>
<path d="M203.44 130L252.4 130L283 130L313.6 130L344.2 130L374.8 130L405.4 130L436 131L466.6 140L497.2 149L527.8 168L558.4 195L589 239.5L619.6 307L650.2 378L680.8 467L711.4 558.4L742 619L772.6 653.6L803.2 659L833.8 658L864.4 657.5" fill="none" stroke="#5a00d4" stroke-width="2.4" stroke-linejoin="round"/>
<path d="M203.44 119.2L213.44 136.2L193.44 136.2Z" fill="#6a12d8" stroke="#5a00d4" stroke-width="0.6" stroke-linejoin="round"/>
<path d="M252.4 119.2L262.4 136.2L242.4 136.2Z" fill="#6a12d8" stroke="#5a00d4" stroke-width="0.6" stroke-linejoin="round"/>
<path d="M283 119.2L293 136.2L273 136.2Z" fill="#6a12d8" stroke="#5a00d4" stroke-width="0.6" stroke-linejoin="round"/>
<path d="M313.6 119.2L323.6 136.2L303.6 136.2Z" fill="#6a12d8" stroke="#5a00d4" stroke-width="0.6" stroke-linejoin="round"/>
<path d="M344.2 119.2L354.2 136.2L334.2 136.2Z" fill="#6a12d8" stroke="#5a00d4" stroke-width="0.6" stroke-linejoin="round"/>
<path d="M374.8 119.2L384.8 136.2L364.8 136.2Z" fill="#6a12d8" stroke="#5a00d4" stroke-width="0.6" stroke-linejoin="round"/>
<path d="M405.4 119.2L415.4 136.2L395.4 136.2Z" fill="#6a12d8" stroke="#5a00d4" stroke-width="0.6" stroke-linejoin="round"/>
<path d="M436 120.2L446 137.2L426 137.2Z" fill="#6a12d8" stroke="#5a00d4" stroke-width="0.6" stroke-linejoin="round"/>
<path d="M466.6 129.2L476.6 146.2L456.6 146.2Z" fill="#6a12d8" stroke="#5a00d4" stroke-width="0.6" stroke-linejoin="round"/>
<path d="M497.2 138.2L507.2 155.2L487.2 155.2Z" fill="#6a12d8" stroke="#5a00d4" stroke-width="0.6" stroke-linejoin="round"/>
<path d="M527.8 157.2L537.8 174.2L517.8 174.2Z" fill="#6a12d8" stroke="#5a00d4" stroke-width="0.6" stroke-linejoin="round"/>
<path d="M558.4 184.2L568.4 201.2L548.4 201.2Z" fill="#6a12d8" stroke="#5a00d4" stroke-width="0.6" stroke-linejoin="round"/>
<path d="M589 228.7L599 245.7L579 245.7Z" fill="#6a12d8" stroke="#5a00d4" stroke-width="0.6" stroke-linejoin="round"/>
<path d="M619.6 296.2L629.6 313.2L609.6 313.2Z" fill="#6a12d8" stroke="#5a00d4" stroke-width="0.6" stroke-linejoin="round"/>
<path d="M650.2 367.2L660.2 384.2L640.2 384.2Z" fill="#6a12d8" stroke="#5a00d4" stroke-width="0.6" stroke-linejoin="round"/>
<path d="M680.8 456.2L690.8 473.2L670.8 473.2Z" fill="#6a12d8" stroke="#5a00d4" stroke-width="0.6" stroke-linejoin="round"/>
<path d="M711.4 547.6L721.4 564.6L701.4 564.6Z" fill="#6a12d8" stroke="#5a00d4" stroke-width="0.6" stroke-linejoin="round"/>
<path d="M742 608.2L752 625.2L732 625.2Z" fill="#6a12d8" stroke="#5a00d4" stroke-width="0.6" stroke-linejoin="round"/>
<path d="M772.6 642.8L782.6 659.8L762.6 659.8Z" fill="#6a12d8" stroke="#5a00d4" stroke-width="0.6" stroke-linejoin="round"/>
<path d="M803.2 648.2L813.2 665.2L793.2 665.2Z" fill="#6a12d8" stroke="#5a00d4" stroke-width="0.6" stroke-linejoin="round"/>
<path d="M833.8 647.2L843.8 664.2L823.8 664.2Z" fill="#6a12d8" stroke="#5a00d4" stroke-width="0.6" stroke-linejoin="round"/>
<path d="M864.4 646.7L874.4 663.7L854.4 663.7Z" fill="#6a12d8" stroke="#5a00d4" stroke-width="0.6" stroke-linejoin="round"/>
<path d="M207.1 130L258.5 130L290.62 130L322.75 130L354.88 130L387 137L419.12 143.5L451.25 153.5L483.38 168L515.5 192L547.62 225L579.75 269.5L611.88 325L644 386L676.12 438L708.25 508L740.38 563L772.5 609.6L804.62 643L836.75 655.5L868.88 657L901 657.5" fill="none" stroke="#f02ad8" stroke-width="2.4" stroke-linejoin="round"/>
<path d="M197.1 124.4L217.1 124.4L207.1 141.2Z" fill="#ee30d8" stroke="#f02ad8" stroke-width="0.6" stroke-linejoin="round"/>
<path d="M248.5 124.4L268.5 124.4L258.5 141.2Z" fill="#ee30d8" stroke="#f02ad8" stroke-width="0.6" stroke-linejoin="round"/>
<path d="M280.62 124.4L300.62 124.4L290.62 141.2Z" fill="#ee30d8" stroke="#f02ad8" stroke-width="0.6" stroke-linejoin="round"/>
<path d="M312.75 124.4L332.75 124.4L322.75 141.2Z" fill="#ee30d8" stroke="#f02ad8" stroke-width="0.6" stroke-linejoin="round"/>
<path d="M344.88 124.4L364.88 124.4L354.88 141.2Z" fill="#ee30d8" stroke="#f02ad8" stroke-width="0.6" stroke-linejoin="round"/>
<path d="M377 131.4L397 131.4L387 148.2Z" fill="#ee30d8" stroke="#f02ad8" stroke-width="0.6" stroke-linejoin="round"/>
<path d="M409.12 137.9L429.12 137.9L419.12 154.7Z" fill="#ee30d8" stroke="#f02ad8" stroke-width="0.6" stroke-linejoin="round"/>
<path d="M441.25 147.9L461.25 147.9L451.25 164.7Z" fill="#ee30d8" stroke="#f02ad8" stroke-width="0.6" stroke-linejoin="round"/>
<path d="M473.38 162.4L493.38 162.4L483.38 179.2Z" fill="#ee30d8" stroke="#f02ad8" stroke-width="0.6" stroke-linejoin="round"/>
<path d="M505.5 186.4L525.5 186.4L515.5 203.2Z" fill="#ee30d8" stroke="#f02ad8" stroke-width="0.6" stroke-linejoin="round"/>
<path d="M537.62 219.4L557.62 219.4L547.62 236.2Z" fill="#ee30d8" stroke="#f02ad8" stroke-width="0.6" stroke-linejoin="round"/>
<path d="M569.75 263.9L589.75 263.9L579.75 280.7Z" fill="#ee30d8" stroke="#f02ad8" stroke-width="0.6" stroke-linejoin="round"/>
<path d="M601.88 319.4L621.88 319.4L611.88 336.2Z" fill="#ee30d8" stroke="#f02ad8" stroke-width="0.6" stroke-linejoin="round"/>
<path d="M634 380.4L654 380.4L644 397.2Z" fill="#ee30d8" stroke="#f02ad8" stroke-width="0.6" stroke-linejoin="round"/>
<path d="M666.12 432.4L686.12 432.4L676.12 449.2Z" fill="#ee30d8" stroke="#f02ad8" stroke-width="0.6" stroke-linejoin="round"/>
<path d="M698.25 502.4L718.25 502.4L708.25 519.2Z" fill="#ee30d8" stroke="#f02ad8" stroke-width="0.6" stroke-linejoin="round"/>
<path d="M730.38 557.4L750.38 557.4L740.38 574.2Z" fill="#ee30d8" stroke="#f02ad8" stroke-width="0.6" stroke-linejoin="round"/>
<path d="M762.5 604L782.5 604L772.5 620.8Z" fill="#ee30d8" stroke="#f02ad8" stroke-width="0.6" stroke-linejoin="round"/>
<path d="M794.62 637.4L814.62 637.4L804.62 654.2Z" fill="#ee30d8" stroke="#f02ad8" stroke-width="0.6" stroke-linejoin="round"/>
<path d="M826.75 649.9L846.75 649.9L836.75 666.7Z" fill="#ee30d8" stroke="#f02ad8" stroke-width="0.6" stroke-linejoin="round"/>
<path d="M858.88 651.4L878.88 651.4L868.88 668.2Z" fill="#ee30d8" stroke="#f02ad8" stroke-width="0.6" stroke-linejoin="round"/>
<path d="M891 651.9L911 651.9L901 668.7Z" fill="#ee30d8" stroke="#f02ad8" stroke-width="0.6" stroke-linejoin="round"/>
<path d="M207.1 130L258.5 130L290.62 130L322.75 131L354.88 139L387 152.5L419.12 175L451.25 213L483.38 250L515.5 288L547.62 329.4L579.75 371L611.88 416L644 461L676.12 506L708.25 553.6L740.38 595.2L772.5 633.6L804.62 649.6L836.75 656L868.88 657L901 657.5" fill="none" stroke="#008418" stroke-width="2.4" stroke-linejoin="round"/>
<path d="M207.1 119.5L217.6 130L207.1 140.5L196.6 130Z" fill="#068a1e"/>
<path d="M258.5 119.5L269 130L258.5 140.5L248 130Z" fill="#068a1e"/>
<path d="M290.62 119.5L301.12 130L290.62 140.5L280.12 130Z" fill="#068a1e"/>
<path d="M322.75 120.5L333.25 131L322.75 141.5L312.25 131Z" fill="#068a1e"/>
<path d="M354.88 128.5L365.38 139L354.88 149.5L344.38 139Z" fill="#068a1e"/>
<path d="M387 142L397.5 152.5L387 163L376.5 152.5Z" fill="#068a1e"/>
<path d="M419.12 164.5L429.62 175L419.12 185.5L408.62 175Z" fill="#068a1e"/>
<path d="M451.25 202.5L461.75 213L451.25 223.5L440.75 213Z" fill="#068a1e"/>
<path d="M483.38 239.5L493.88 250L483.38 260.5L472.88 250Z" fill="#068a1e"/>
<path d="M515.5 277.5L526 288L515.5 298.5L505 288Z" fill="#068a1e"/>
<path d="M547.62 318.9L558.12 329.4L547.62 339.9L537.12 329.4Z" fill="#068a1e"/>
<path d="M579.75 360.5L590.25 371L579.75 381.5L569.25 371Z" fill="#068a1e"/>
<path d="M611.88 405.5L622.38 416L611.88 426.5L601.38 416Z" fill="#068a1e"/>
<path d="M644 450.5L654.5 461L644 471.5L633.5 461Z" fill="#068a1e"/>
<path d="M676.12 495.5L686.62 506L676.12 516.5L665.62 506Z" fill="#068a1e"/>
<path d="M708.25 543.1L718.75 553.6L708.25 564.1L697.75 553.6Z" fill="#068a1e"/>
<path d="M740.38 584.7L750.88 595.2L740.38 605.7L729.88 595.2Z" fill="#068a1e"/>
<path d="M772.5 623.1L783 633.6L772.5 644.1L762 633.6Z" fill="#068a1e"/>
<path d="M804.62 639.1L815.12 649.6L804.62 660.1L794.12 649.6Z" fill="#068a1e"/>
<path d="M836.75 645.5L847.25 656L836.75 666.5L826.25 656Z" fill="#068a1e"/>
<path d="M868.88 646.5L879.38 657L868.88 667.5L858.38 657Z" fill="#068a1e"/>
<path d="M901 647L911.5 657.5L901 668L890.5 657.5Z" fill="#068a1e"/>
<path d="M203.32 130L252.2 130L282.75 130L313.3 130L343.85 130L374.4 130L404.95 130L435.5 135.4L466.05 142L496.6 158L527.15 186L557.7 214L588.25 253L618.8 298L649.35 365.5L679.9 449L710.45 543.5L741 612L771.55 646.4L802.1 659L832.65 658L863.2 657.5" fill="none" stroke="#5b80e6" stroke-width="2.4" stroke-linejoin="round"/>
<path d="M192.72 130L208.72 120.3L208.72 139.7Z" fill="#5b80e6" stroke="#5b80e6" stroke-width="0.6" stroke-linejoin="round"/>
<path d="M241.6 130L257.6 120.3L257.6 139.7Z" fill="#5b80e6" stroke="#5b80e6" stroke-width="0.6" stroke-linejoin="round"/>
<path d="M272.15 130L288.15 120.3L288.15 139.7Z" fill="#5b80e6" stroke="#5b80e6" stroke-width="0.6" stroke-linejoin="round"/>
<path d="M302.7 130L318.7 120.3L318.7 139.7Z" fill="#5b80e6" stroke="#5b80e6" stroke-width="0.6" stroke-linejoin="round"/>
<path d="M333.25 130L349.25 120.3L349.25 139.7Z" fill="#5b80e6" stroke="#5b80e6" stroke-width="0.6" stroke-linejoin="round"/>
<path d="M363.8 130L379.8 120.3L379.8 139.7Z" fill="#5b80e6" stroke="#5b80e6" stroke-width="0.6" stroke-linejoin="round"/>
<path d="M394.35 130L410.35 120.3L410.35 139.7Z" fill="#5b80e6" stroke="#5b80e6" stroke-width="0.6" stroke-linejoin="round"/>
<path d="M424.9 135.4L440.9 125.7L440.9 145.1Z" fill="#5b80e6" stroke="#5b80e6" stroke-width="0.6" stroke-linejoin="round"/>
<path d="M455.45 142L471.45 132.3L471.45 151.7Z" fill="#5b80e6" stroke="#5b80e6" stroke-width="0.6" stroke-linejoin="round"/>
<path d="M486 158L502 148.3L502 167.7Z" fill="#5b80e6" stroke="#5b80e6" stroke-width="0.6" stroke-linejoin="round"/>
<path d="M516.55 186L532.55 176.3L532.55 195.7Z" fill="#5b80e6" stroke="#5b80e6" stroke-width="0.6" stroke-linejoin="round"/>
<path d="M547.1 214L563.1 204.3L563.1 223.7Z" fill="#5b80e6" stroke="#5b80e6" stroke-width="0.6" stroke-linejoin="round"/>
<path d="M577.65 253L593.65 243.3L593.65 262.7Z" fill="#5b80e6" stroke="#5b80e6" stroke-width="0.6" stroke-linejoin="round"/>
<path d="M608.2 298L624.2 288.3L624.2 307.7Z" fill="#5b80e6" stroke="#5b80e6" stroke-width="0.6" stroke-linejoin="round"/>
<path d="M638.75 365.5L654.75 355.8L654.75 375.2Z" fill="#5b80e6" stroke="#5b80e6" stroke-width="0.6" stroke-linejoin="round"/>
<path d="M669.3 449L685.3 439.3L685.3 458.7Z" fill="#5b80e6" stroke="#5b80e6" stroke-width="0.6" stroke-linejoin="round"/>
<path d="M699.85 543.5L715.85 533.8L715.85 553.2Z" fill="#5b80e6" stroke="#5b80e6" stroke-width="0.6" stroke-linejoin="round"/>
<path d="M730.4 612L746.4 602.3L746.4 621.7Z" fill="#5b80e6" stroke="#5b80e6" stroke-width="0.6" stroke-linejoin="round"/>
<path d="M760.95 646.4L776.95 636.7L776.95 656.1Z" fill="#5b80e6" stroke="#5b80e6" stroke-width="0.6" stroke-linejoin="round"/>
<path d="M791.5 659L807.5 649.3L807.5 668.7Z" fill="#5b80e6" stroke="#5b80e6" stroke-width="0.6" stroke-linejoin="round"/>
<path d="M822.05 658L838.05 648.3L838.05 667.7Z" fill="#5b80e6" stroke="#5b80e6" stroke-width="0.6" stroke-linejoin="round"/>
<path d="M852.6 657.5L868.6 647.8L868.6 667.2Z" fill="#5b80e6" stroke="#5b80e6" stroke-width="0.6" stroke-linejoin="round"/>
<path d="M206.98 130L258.3 130L290.38 130L322.45 130L354.52 130L386.6 130L418.68 130L450.75 131L482.82 138L514.9 148L546.98 165L579.05 191L611.12 230L643.2 291.5L675.27 368L707.35 461L739.42 541L771.5 600L803.58 654.4L835.65 656L867.73 657.5L899.8 657.5" fill="none" stroke="#0000ff" stroke-width="2.4" stroke-linejoin="round"/>
<path d="M217.78 130L201.58 120.3L201.58 139.7Z" fill="#0000fa" stroke="#0000ff" stroke-width="0.6" stroke-linejoin="round"/>
<path d="M269.1 130L252.9 120.3L252.9 139.7Z" fill="#0000fa" stroke="#0000ff" stroke-width="0.6" stroke-linejoin="round"/>
<path d="M301.18 130L284.98 120.3L284.98 139.7Z" fill="#0000fa" stroke="#0000ff" stroke-width="0.6" stroke-linejoin="round"/>
<path d="M333.25 130L317.05 120.3L317.05 139.7Z" fill="#0000fa" stroke="#0000ff" stroke-width="0.6" stroke-linejoin="round"/>
<path d="M365.32 130L349.12 120.3L349.12 139.7Z" fill="#0000fa" stroke="#0000ff" stroke-width="0.6" stroke-linejoin="round"/>
<path d="M397.4 130L381.2 120.3L381.2 139.7Z" fill="#0000fa" stroke="#0000ff" stroke-width="0.6" stroke-linejoin="round"/>
<path d="M429.48 130L413.28 120.3L413.28 139.7Z" fill="#0000fa" stroke="#0000ff" stroke-width="0.6" stroke-linejoin="round"/>
<path d="M461.55 131L445.35 121.3L445.35 140.7Z" fill="#0000fa" stroke="#0000ff" stroke-width="0.6" stroke-linejoin="round"/>
<path d="M493.62 138L477.43 128.3L477.43 147.7Z" fill="#0000fa" stroke="#0000ff" stroke-width="0.6" stroke-linejoin="round"/>
<path d="M525.7 148L509.5 138.3L509.5 157.7Z" fill="#0000fa" stroke="#0000ff" stroke-width="0.6" stroke-linejoin="round"/>
<path d="M557.77 165L541.58 155.3L541.58 174.7Z" fill="#0000fa" stroke="#0000ff" stroke-width="0.6" stroke-linejoin="round"/>
<path d="M589.85 191L573.65 181.3L573.65 200.7Z" fill="#0000fa" stroke="#0000ff" stroke-width="0.6" stroke-linejoin="round"/>
<path d="M621.92 230L605.73 220.3L605.73 239.7Z" fill="#0000fa" stroke="#0000ff" stroke-width="0.6" stroke-linejoin="round"/>
<path d="M654 291.5L637.8 281.8L637.8 301.2Z" fill="#0000fa" stroke="#0000ff" stroke-width="0.6" stroke-linejoin="round"/>
<path d="M686.07 368L669.88 358.3L669.88 377.7Z" fill="#0000fa" stroke="#0000ff" stroke-width="0.6" stroke-linejoin="round"/>
<path d="M718.15 461L701.95 451.3L701.95 470.7Z" fill="#0000fa" stroke="#0000ff" stroke-width="0.6" stroke-linejoin="round"/>
<path d="M750.22 541L734.02 531.3L734.02 550.7Z" fill="#0000fa" stroke="#0000ff" stroke-width="0.6" stroke-linejoin="round"/>
<path d="M782.3 600L766.1 590.3L766.1 609.7Z" fill="#0000fa" stroke="#0000ff" stroke-width="0.6" stroke-linejoin="round"/>
<path d="M814.38 654.4L798.18 644.7L798.18 664.1Z" fill="#0000fa" stroke="#0000ff" stroke-width="0.6" stroke-linejoin="round"/>
<path d="M846.45 656L830.25 646.3L830.25 665.7Z" fill="#0000fa" stroke="#0000ff" stroke-width="0.6" stroke-linejoin="round"/>
<path d="M878.52 657.5L862.33 647.8L862.33 667.2Z" fill="#0000fa" stroke="#0000ff" stroke-width="0.6" stroke-linejoin="round"/>
<path d="M910.6 657.5L894.4 647.8L894.4 667.2Z" fill="#0000fa" stroke="#0000ff" stroke-width="0.6" stroke-linejoin="round"/>
<path d="M207.58 130L259.3 130L291.62 130L323.95 130L356.27 130L388.6 130L420.93 130L453.25 130L485.57 130L517.9 135.6L550.22 152L582.55 173.6L614.88 212L647.2 267L679.52 349.6L711.85 443L744.17 553L776.5 613L808.82 645.6L841.15 657.5L873.48 657.5L905.8 657.5" fill="none" stroke="#ff8d26" stroke-width="2.4" stroke-linejoin="round"/>
<path d="M207.58 120.7L215.63 125.35L215.63 134.65L207.58 139.3L199.53 134.65L199.53 125.35Z" fill="#ff8f2e"/>
<path d="M259.3 120.7L267.35 125.35L267.35 134.65L259.3 139.3L251.25 134.65L251.25 125.35Z" fill="#ff8f2e"/>
<path d="M291.62 120.7L299.68 125.35L299.68 134.65L291.62 139.3L283.57 134.65L283.57 125.35Z" fill="#ff8f2e"/>
<path d="M323.95 120.7L332 125.35L332 134.65L323.95 139.3L315.9 134.65L315.9 125.35Z" fill="#ff8f2e"/>
<path d="M356.27 120.7L364.33 125.35L364.33 134.65L356.27 139.3L348.22 134.65L348.22 125.35Z" fill="#ff8f2e"/>
<path d="M388.6 120.7L396.65 125.35L396.65 134.65L388.6 139.3L380.55 134.65L380.55 125.35Z" fill="#ff8f2e"/>
<path d="M420.93 120.7L428.98 125.35L428.98 134.65L420.93 139.3L412.87 134.65L412.87 125.35Z" fill="#ff8f2e"/>
<path d="M453.25 120.7L461.3 125.35L461.3 134.65L453.25 139.3L445.2 134.65L445.2 125.35Z" fill="#ff8f2e"/>
<path d="M485.57 120.7L493.63 125.35L493.63 134.65L485.57 139.3L477.52 134.65L477.52 125.35Z" fill="#ff8f2e"/>
<path d="M517.9 126.3L525.95 130.95L525.95 140.25L517.9 144.9L509.85 140.25L509.85 130.95Z" fill="#ff8f2e"/>
<path d="M550.22 142.7L558.28 147.35L558.28 156.65L550.22 161.3L542.17 156.65L542.17 147.35Z" fill="#ff8f2e"/>
<path d="M582.55 164.3L590.6 168.95L590.6 178.25L582.55 182.9L574.5 178.25L574.5 168.95Z" fill="#ff8f2e"/>
<path d="M614.88 202.7L622.93 207.35L622.93 216.65L614.88 221.3L606.82 216.65L606.82 207.35Z" fill="#ff8f2e"/>
<path d="M647.2 257.7L655.25 262.35L655.25 271.65L647.2 276.3L639.15 271.65L639.15 262.35Z" fill="#ff8f2e"/>
<path d="M679.52 340.3L687.58 344.95L687.58 354.25L679.52 358.9L671.47 354.25L671.47 344.95Z" fill="#ff8f2e"/>
<path d="M711.85 433.7L719.9 438.35L719.9 447.65L711.85 452.3L703.8 447.65L703.8 438.35Z" fill="#ff8f2e"/>
<path d="M744.17 543.7L752.23 548.35L752.23 557.65L744.17 562.3L736.12 557.65L736.12 548.35Z" fill="#ff8f2e"/>
<path d="M776.5 603.7L784.55 608.35L784.55 617.65L776.5 622.3L768.45 617.65L768.45 608.35Z" fill="#ff8f2e"/>
<path d="M808.82 636.3L816.88 640.95L816.88 650.25L808.82 654.9L800.77 650.25L800.77 640.95Z" fill="#ff8f2e"/>
<path d="M841.15 648.2L849.2 652.85L849.2 662.15L841.15 666.8L833.1 662.15L833.1 652.85Z" fill="#ff8f2e"/>
<path d="M873.48 648.2L881.53 652.85L881.53 662.15L873.48 666.8L865.42 662.15L865.42 652.85Z" fill="#ff8f2e"/>
<path d="M905.8 648.2L913.85 652.85L913.85 662.15L905.8 666.8L897.75 662.15L897.75 652.85Z" fill="#ff8f2e"/>
<path d="M756 74.6H830.2" stroke="#000000" stroke-width="2.2" stroke-linecap="round"/>
<rect x="785.7" y="67.3" width="14.6" height="14.6" fill="#000000"/>
<text x="838.45" y="81.80" font-size="30" textLength="83.11" lengthAdjust="spacingAndGlyphs">Native</text>
<path d="M756 114.3H830.2" stroke="#e0001c" stroke-width="2.2" stroke-linecap="round"/>
<circle cx="793" cy="114.3" r="7.8" fill="#e01a30" stroke="#e0001c" stroke-width="0.6"/>
<text x="838.47" y="121.80" font-size="30" textLength="56.64" lengthAdjust="spacingAndGlyphs">R2A</text>
<path d="M756 154H830.2" stroke="#5a00d4" stroke-width="2.2" stroke-linecap="round"/>
<path d="M793 143.2L803 160.2L783 160.2Z" fill="#6a12d8" stroke="#5a00d4" stroke-width="0.6" stroke-linejoin="round"/>
<text x="838.04" y="162.70" font-size="30" textLength="55.67" lengthAdjust="spacingAndGlyphs">P3A</text>
<path d="M756 193.7H830.2" stroke="#f02ad8" stroke-width="2.2" stroke-linecap="round"/>
<path d="M783 188.1L803 188.1L793 204.9Z" fill="#ee30d8" stroke="#f02ad8" stroke-width="0.6" stroke-linejoin="round"/>
<text x="838.04" y="202.60" font-size="30" textLength="57.27" lengthAdjust="spacingAndGlyphs">R4A</text>
<path d="M756 233.4H830.2" stroke="#008418" stroke-width="2.2" stroke-linecap="round"/>
<path d="M793 222.9L803.5 233.4L793 243.9L782.5 233.4Z" fill="#068a1e"/>
<text x="838.04" y="242.90" font-size="30" textLength="57.27" lengthAdjust="spacingAndGlyphs">R6A</text>
<path d="M756 273.1H830.2" stroke="#5b80e6" stroke-width="2.2" stroke-linecap="round"/>
<path d="M782.4 273.1L798.4 263.4L798.4 282.8Z" fill="#5b80e6" stroke="#5b80e6" stroke-width="0.6" stroke-linejoin="round"/>
<text x="838.04" y="283.00" font-size="30" textLength="55.67" lengthAdjust="spacingAndGlyphs">P7A</text>
<path d="M756 312.8H830.2" stroke="#0000ff" stroke-width="2.2" stroke-linecap="round"/>
<path d="M803.8 312.8L787.6 303.1L787.6 322.5Z" fill="#0000fa" stroke="#0000ff" stroke-width="0.6" stroke-linejoin="round"/>
<text x="838.04" y="323.30" font-size="30" textLength="57.27" lengthAdjust="spacingAndGlyphs">R8A</text>
<path d="M756 352.5H830.2" stroke="#ff8d26" stroke-width="2.2" stroke-linecap="round"/>
<path d="M793 343.2L801.05 347.85L801.05 357.15L793 361.8L784.95 357.15L784.95 347.85Z" fill="#ff8f2e"/>
<text x="839.60" y="363.20" font-size="30" textLength="78.01" lengthAdjust="spacingAndGlyphs">W10A</text>
<text x="16.14" y="884.00" font-size="27.5" textLength="27.49" lengthAdjust="spacingAndGlyphs">b)</text>
<text x="80.54" y="902.00" font-size="29.5" textLength="242.18" lengthAdjust="spacingAndGlyphs">Binding Affinity (K</text>
<text x="323.73" y="903.50" font-size="20" textLength="10.70" lengthAdjust="spacingAndGlyphs">a</text>
<text x="337.00" y="902.00" font-size="29.5" textLength="9.51" lengthAdjust="spacingAndGlyphs">)</text>
<rect x="182.8" y="926.4" width="83.2" height="53.6" fill="#000000"/>
<rect x="119.7" y="980.0" width="143.3" height="48.8" fill="#e01a30"/>
<rect x="128.4" y="1028.8" width="134.6" height="58" fill="#6a12d8"/>
<rect x="215.5" y="1086.8" width="47.5" height="57.9" fill="#d000a8"/>
<rect x="229.9" y="1144.7" width="33.1" height="48.8" fill="#068a1e"/>
<rect x="211.7" y="1193.5" width="51.3" height="52.7" fill="#5a7fe6"/>
<rect x="174.0" y="1246.2" width="90" height="52.7" fill="#0000ff"/>
<rect x="46.6" y="1298.9" width="216.4" height="52.6" fill="#ff9030"/>
<path d="M264.3 926.4V1353.3" stroke="#000" stroke-width="3.2"/>
<path d="M10 1353.2H265.8" stroke="#000" stroke-width="2.2"/>
<path d="M11.2 1352.2V1360.5" stroke="#000" stroke-width="2.4"/>
<path d="M178.4 951.6H191.8M178.4 943.3V959.9M191.8 943.3V959.9" stroke="#585858" stroke-width="1.7" fill="none"/>
<path d="M110.7 1005H133M110.7 996.7V1013.3M133 996.7V1013.3" stroke="#585858" stroke-width="1.7" fill="none"/>
<path d="M99.1 1059H161.6M99.1 1050.7V1067.3M161.6 1050.7V1067.3" stroke="#585858" stroke-width="1.7" fill="none"/>
<path d="M200.6 1114.6H234.3M200.6 1106.3V1122.9M234.3 1106.3V1122.9" stroke="#585858" stroke-width="1.7" fill="none"/>
<path d="M230.6 1165.8H232M230.6 1157.5V1174.1M232 1157.5V1174.1" stroke="#585858" stroke-width="1.7" fill="none"/>
<path d="M210 1219.9H216.7M210 1211.6V1228.2M216.7 1211.6V1228.2" stroke="#585858" stroke-width="1.7" fill="none"/>
<path d="M164 1273H184.5M164 1264.7V1281.3M184.5 1264.7V1281.3" stroke="#585858" stroke-width="1.7" fill="none"/>
<path d="M40.2 1325.7H56M40.2 1317.4V1334M56 1317.4V1334" stroke="#585858" stroke-width="2.6" fill="none"/>
<text x="277.39" y="960.90" font-size="25" textLength="119.44" lengthAdjust="spacingAndGlyphs">Native-DNA</text>
<text x="289.88" y="1015.60" font-size="25" textLength="94.35" lengthAdjust="spacingAndGlyphs">R2A-DNA</text>
<text x="289.86" y="1067.60" font-size="25" textLength="94.38" lengthAdjust="spacingAndGlyphs">P3A-DNA</text>
<text x="289.88" y="1122.00" font-size="25" textLength="94.35" lengthAdjust="spacingAndGlyphs">R4A-DNA</text>
<text x="289.88" y="1175.50" font-size="25" textLength="94.35" lengthAdjust="spacingAndGlyphs">R6A-DNA</text>
<text x="289.86" y="1229.10" font-size="25" textLength="94.38" lengthAdjust="spacingAndGlyphs">P7A-DNA</text>
<text x="289.88" y="1281.80" font-size="25" textLength="94.35" lengthAdjust="spacingAndGlyphs">R8A-DNA</text>
<text x="281.20" y="1334.60" font-size="25" textLength="113.13" lengthAdjust="spacingAndGlyphs">W10A-DNA</text>
<text transform="translate(15.20 0) rotate(-90)" x="-1400.29" y="0" font-size="17.4" textLength="35.96" lengthAdjust="spacingAndGlyphs">1.30</text>
<text x="98.48" y="1383.00" font-size="21.8" textLength="12.65" lengthAdjust="spacingAndGlyphs">K</text>
<text x="111.50" y="1391.00" font-size="15" textLength="6.95" lengthAdjust="spacingAndGlyphs">a</text>
<text x="123.61" y="1383.00" font-size="21.8" textLength="47.62" lengthAdjust="spacingAndGlyphs">(uM)</text>
<text x="393.42" y="885.00" font-size="27.5" textLength="24.54" lengthAdjust="spacingAndGlyphs">c)</text>
<text x="460.69" y="904.40" font-size="32.5" textLength="431.82" lengthAdjust="spacingAndGlyphs">Binding Affinity Distance Matrix</text>
<g shape-rendering="crispEdges">
<rect x="419.8" y="926.4" width="59.65" height="53.83" fill="#00b0b8"/>
<rect x="478.95" y="926.4" width="59.65" height="53.83" fill="#00b040"/>
<rect x="538.1" y="926.4" width="59.65" height="53.83" fill="#00ae48"/>
<rect x="597.25" y="926.4" width="59.65" height="53.83" fill="#00ae48"/>
<rect x="656.4" y="926.4" width="59.65" height="53.83" fill="#00ac58"/>
<rect x="715.55" y="926.4" width="59.65" height="53.83" fill="#00b4e0"/>
<rect x="774.7" y="926.4" width="59.65" height="53.83" fill="#00aca0"/>
<rect x="833.85" y="926.4" width="59.65" height="53.83" fill="#eeaa00"/>
<rect x="419.8" y="979.73" width="59.65" height="53.83" fill="#00b040"/>
<rect x="478.95" y="979.73" width="59.65" height="53.83" fill="#00b0b8"/>
<rect x="538.1" y="979.73" width="59.65" height="53.83" fill="#00b0b8"/>
<rect x="597.25" y="979.73" width="59.65" height="53.83" fill="#0000e0"/>
<rect x="656.4" y="979.73" width="59.65" height="53.83" fill="#0000e0"/>
<rect x="715.55" y="979.73" width="59.65" height="53.83" fill="#0024e0"/>
<rect x="774.7" y="979.73" width="59.65" height="53.83" fill="#008cc8"/>
<rect x="833.85" y="979.73" width="59.65" height="53.83" fill="#cde000"/>
<rect x="419.8" y="1033.05" width="59.65" height="53.83" fill="#00ae48"/>
<rect x="478.95" y="1033.05" width="59.65" height="53.83" fill="#00b0b8"/>
<rect x="538.1" y="1033.05" width="59.65" height="53.83" fill="#00b0b8"/>
<rect x="597.25" y="1033.05" width="59.65" height="53.83" fill="#0000e0"/>
<rect x="656.4" y="1033.05" width="59.65" height="53.83" fill="#0000e0"/>
<rect x="715.55" y="1033.05" width="59.65" height="53.83" fill="#0044e0"/>
<rect x="774.7" y="1033.05" width="59.65" height="53.83" fill="#008cc8"/>
<rect x="833.85" y="1033.05" width="59.65" height="53.83" fill="#cde000"/>
<rect x="419.8" y="1086.38" width="59.65" height="53.83" fill="#008cc8"/>
<rect x="478.95" y="1086.38" width="59.65" height="53.83" fill="#0000e0"/>
<rect x="538.1" y="1086.38" width="59.65" height="53.83" fill="#0000e0"/>
<rect x="597.25" y="1086.38" width="59.65" height="53.83" fill="#00b0b8"/>
<rect x="656.4" y="1086.38" width="59.65" height="53.83" fill="#00b0b8"/>
<rect x="715.55" y="1086.38" width="59.65" height="53.83" fill="#00aa8c"/>
<rect x="774.7" y="1086.38" width="59.65" height="53.83" fill="#00b040"/>
<rect x="833.85" y="1086.38" width="59.65" height="53.83" fill="#e21530"/>
<rect x="419.8" y="1139.7" width="59.65" height="53.83" fill="#008cc8"/>
<rect x="478.95" y="1139.7" width="59.65" height="53.83" fill="#0000e0"/>
<rect x="538.1" y="1139.7" width="59.65" height="53.83" fill="#0000e0"/>
<rect x="597.25" y="1139.7" width="59.65" height="53.83" fill="#00b0b8"/>
<rect x="656.4" y="1139.7" width="59.65" height="53.83" fill="#00b0b8"/>
<rect x="715.55" y="1139.7" width="59.65" height="53.83" fill="#00aa8c"/>
<rect x="774.7" y="1139.7" width="59.65" height="53.83" fill="#00b040"/>
<rect x="833.85" y="1139.7" width="59.65" height="53.83" fill="#e21530"/>
<rect x="419.8" y="1193.03" width="59.65" height="53.83" fill="#00b4e0"/>
<rect x="478.95" y="1193.03" width="59.65" height="53.83" fill="#0024e0"/>
<rect x="538.1" y="1193.03" width="59.65" height="53.83" fill="#0044e0"/>
<rect x="597.25" y="1193.03" width="59.65" height="53.83" fill="#00aa8c"/>
<rect x="656.4" y="1193.03" width="59.65" height="53.83" fill="#00aa8c"/>
<rect x="715.55" y="1193.03" width="59.65" height="53.83" fill="#00b0b8"/>
<rect x="774.7" y="1193.03" width="59.65" height="53.83" fill="#00ac58"/>
<rect x="833.85" y="1193.03" width="59.65" height="53.83" fill="#e5502a"/>
<rect x="419.8" y="1246.35" width="59.65" height="53.83" fill="#00aca0"/>
<rect x="478.95" y="1246.35" width="59.65" height="53.83" fill="#008cc8"/>
<rect x="538.1" y="1246.35" width="59.65" height="53.83" fill="#008cc8"/>
<rect x="597.25" y="1246.35" width="59.65" height="53.83" fill="#00b040"/>
<rect x="656.4" y="1246.35" width="59.65" height="53.83" fill="#00b040"/>
<rect x="715.55" y="1246.35" width="59.65" height="53.83" fill="#00ac58"/>
<rect x="774.7" y="1246.35" width="59.65" height="53.83" fill="#00b0b8"/>
<rect x="833.85" y="1246.35" width="59.65" height="53.83" fill="#f4c200"/>
<rect x="419.8" y="1299.67" width="59.65" height="53.83" fill="#eeaa00"/>
<rect x="478.95" y="1299.67" width="59.65" height="53.83" fill="#cde000"/>
<rect x="538.1" y="1299.67" width="59.65" height="53.83" fill="#cde000"/>
<rect x="597.25" y="1299.67" width="59.65" height="53.83" fill="#e21530"/>
<rect x="656.4" y="1299.67" width="59.65" height="53.83" fill="#e21530"/>
<rect x="715.55" y="1299.67" width="59.65" height="53.83" fill="#e5502a"/>
<rect x="774.7" y="1299.67" width="59.65" height="53.83" fill="#f4c200"/>
<rect x="833.85" y="1299.67" width="59.65" height="53.83" fill="#00b0b8"/>
</g>
<rect x="419.8" y="926.4" width="473.2" height="426.6" fill="none" stroke="#000" stroke-width="1.9"/>
<path d="M408.4 953.06H419.8" stroke="#000" stroke-width="1.9"/>
<path d="M449.38 1353.0V1362.5" stroke="#000" stroke-width="1.9"/>
<text transform="translate(455.57 0) rotate(-90)" x="-1503.02" y="0" font-size="25.5" textLength="133.45" lengthAdjust="spacingAndGlyphs">Native-DNA</text>
<path d="M408.4 1006.39H419.8" stroke="#000" stroke-width="1.9"/>
<path d="M508.52 1353.0V1362.5" stroke="#000" stroke-width="1.9"/>
<text transform="translate(514.73 0) rotate(-90)" x="-1476.45" y="0" font-size="25.5" textLength="106.87" lengthAdjust="spacingAndGlyphs">R2A-DNA</text>
<path d="M408.4 1059.71H419.8" stroke="#000" stroke-width="1.9"/>
<path d="M567.67 1353.0V1362.5" stroke="#000" stroke-width="1.9"/>
<text transform="translate(573.88 0) rotate(-90)" x="-1476.47" y="0" font-size="25.5" textLength="106.90" lengthAdjust="spacingAndGlyphs">P3A-DNA</text>
<path d="M408.4 1113.04H419.8" stroke="#000" stroke-width="1.9"/>
<path d="M626.83 1353.0V1362.5" stroke="#000" stroke-width="1.9"/>
<text transform="translate(633.03 0) rotate(-90)" x="-1476.45" y="0" font-size="25.5" textLength="106.87" lengthAdjust="spacingAndGlyphs">R4A-DNA</text>
<path d="M408.4 1166.36H419.8" stroke="#000" stroke-width="1.9"/>
<path d="M685.98 1353.0V1362.5" stroke="#000" stroke-width="1.9"/>
<text transform="translate(692.18 0) rotate(-90)" x="-1476.45" y="0" font-size="25.5" textLength="106.87" lengthAdjust="spacingAndGlyphs">R6A-DNA</text>
<path d="M408.4 1219.69H419.8" stroke="#000" stroke-width="1.9"/>
<path d="M745.12 1353.0V1362.5" stroke="#000" stroke-width="1.9"/>
<text transform="translate(751.33 0) rotate(-90)" x="-1476.47" y="0" font-size="25.5" textLength="106.90" lengthAdjust="spacingAndGlyphs">P7A-DNA</text>
<path d="M408.4 1273.01H419.8" stroke="#000" stroke-width="1.9"/>
<path d="M804.27 1353.0V1362.5" stroke="#000" stroke-width="1.9"/>
<text transform="translate(810.48 0) rotate(-90)" x="-1476.45" y="0" font-size="25.5" textLength="106.87" lengthAdjust="spacingAndGlyphs">R8A-DNA</text>
<path d="M408.4 1326.34H419.8" stroke="#000" stroke-width="1.9"/>
<path d="M863.42 1353.0V1362.5" stroke="#000" stroke-width="1.9"/>
<text transform="translate(869.62 0) rotate(-90)" x="-1497.50" y="0" font-size="25.5" textLength="127.93" lengthAdjust="spacingAndGlyphs">W10A-DNA</text>
<g shape-rendering="crispEdges">
<rect x="906.1" y="927.2" width="26.9" height="14.67" fill="#e21530"/>
<rect x="906.1" y="941.37" width="26.9" height="14.67" fill="#e5502a"/>
<rect x="906.1" y="955.53" width="26.9" height="14.67" fill="#e96e26"/>
<rect x="906.1" y="969.7" width="26.9" height="14.67" fill="#ec8a22"/>
<rect x="906.1" y="983.87" width="26.9" height="14.67" fill="#eeaa00"/>
<rect x="906.1" y="998.03" width="26.9" height="14.67" fill="#f4c200"/>
<rect x="906.1" y="1012.2" width="26.9" height="14.67" fill="#f8dc00"/>
<rect x="906.1" y="1026.37" width="26.9" height="14.67" fill="#fffc00"/>
<rect x="906.1" y="1040.53" width="26.9" height="14.67" fill="#e6ea00"/>
<rect x="906.1" y="1054.7" width="26.9" height="14.67" fill="#cde000"/>
<rect x="906.1" y="1068.87" width="26.9" height="14.67" fill="#b2d420"/>
<rect x="906.1" y="1083.03" width="26.9" height="14.67" fill="#90c630"/>
<rect x="906.1" y="1097.2" width="26.9" height="14.67" fill="#64bc38"/>
<rect x="906.1" y="1111.37" width="26.9" height="14.67" fill="#34b440"/>
<rect x="906.1" y="1125.53" width="26.9" height="14.67" fill="#00b040"/>
<rect x="906.1" y="1139.7" width="26.9" height="14.67" fill="#00ae48"/>
<rect x="906.1" y="1153.87" width="26.9" height="14.67" fill="#00ac58"/>
<rect x="906.1" y="1168.03" width="26.9" height="14.67" fill="#00aa68"/>
<rect x="906.1" y="1182.2" width="26.9" height="14.67" fill="#00a878"/>
<rect x="906.1" y="1196.37" width="26.9" height="14.67" fill="#00aa8c"/>
<rect x="906.1" y="1210.53" width="26.9" height="14.67" fill="#00aca0"/>
<rect x="906.1" y="1224.7" width="26.9" height="14.67" fill="#00b0b8"/>
<rect x="906.1" y="1238.87" width="26.9" height="14.67" fill="#00b4e0"/>
<rect x="906.1" y="1253.03" width="26.9" height="14.67" fill="#00a0d0"/>
<rect x="906.1" y="1267.2" width="26.9" height="14.67" fill="#008cc8"/>
<rect x="906.1" y="1281.37" width="26.9" height="14.67" fill="#007ee0"/>
<rect x="906.1" y="1295.53" width="26.9" height="14.67" fill="#0062e4"/>
<rect x="906.1" y="1309.7" width="26.9" height="14.67" fill="#0044e0"/>
<rect x="906.1" y="1323.87" width="26.9" height="14.67" fill="#0024e0"/>
<rect x="906.1" y="1338.03" width="26.9" height="14.67" fill="#0000e0"/>
</g>
<rect x="906.1" y="927.2" width="26.9" height="425" fill="none" stroke="#000" stroke-width="1.9"/>
<path d="M933.0 927.2H941" stroke="#000" stroke-width="1.9"/>
<text x="945.45" y="934.20" font-size="23.4" textLength="44.57" lengthAdjust="spacingAndGlyphs">2.00</text>
<path d="M933.0 1012.2H941" stroke="#000" stroke-width="1.9"/>
<text x="944.98" y="1019.20" font-size="23.4" textLength="45.06" lengthAdjust="spacingAndGlyphs">1.40</text>
<path d="M933.0 1097.2H941" stroke="#000" stroke-width="1.9"/>
<text x="945.92" y="1104.20" font-size="23.4" textLength="44.10" lengthAdjust="spacingAndGlyphs">0.75</text>
<path d="M933.0 1182.2H941" stroke="#000" stroke-width="1.9"/>
<text x="945.92" y="1189.20" font-size="23.4" textLength="44.10" lengthAdjust="spacingAndGlyphs">0.10</text>
<path d="M933.0 1267.2H941" stroke="#000" stroke-width="1.9"/>
<text x="946.00" y="1274.20" font-size="23.4" textLength="51.11" lengthAdjust="spacingAndGlyphs">-0.50</text>
<path d="M933.0 1352.2H941" stroke="#000" stroke-width="1.9"/>
<text x="946.00" y="1359.20" font-size="23.4" textLength="51.11" lengthAdjust="spacingAndGlyphs">-1.15</text>
</svg></body></html>
